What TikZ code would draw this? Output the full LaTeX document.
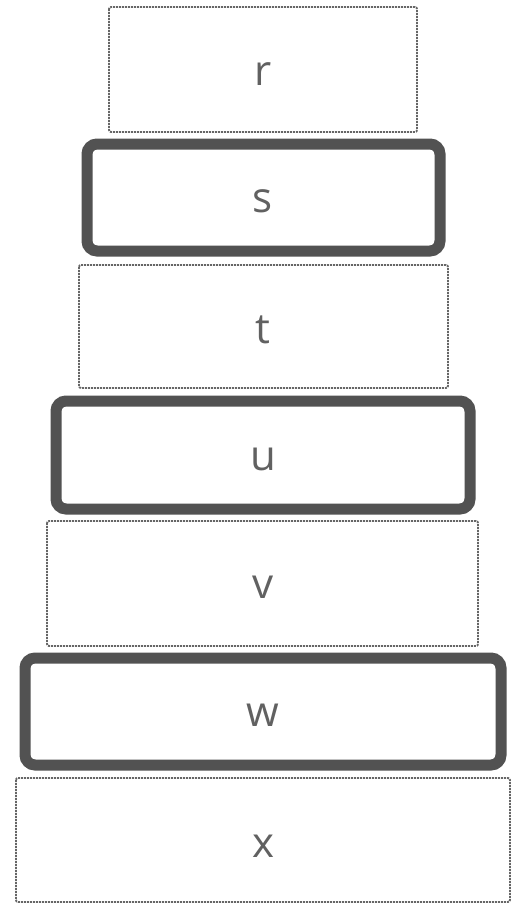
\documentclass[tikz,border=0pt]{standalone}
\usepackage{fontspec}
\setmainfont{Open Sans}
\begin{document}
\begin{tikzpicture}[x=1pt,y=-1pt,
  thinbox/.style={draw=black!60, line width=1.9pt, dash pattern=on 2pt off 1pt, rounded corners=2pt, fill=white},
  thickbox/.style={draw=black!68, line width=11pt, rounded corners=10pt, fill=white},
  lbl/.style={text=black!62, font=\fontsize{42}{48}\selectfont}]
\useasboundingbox (0,0) rectangle (519,907);
\draw[thinbox] (109,7) rectangle (417,132);
\node[lbl] (r) at (263,74) {r};
\draw[thickbox] (87,144) rectangle (440,251);
\node[lbl] (s) at (263,201) {s};
\draw[thinbox] (79,265) rectangle (448,388);
\node[lbl] (t) at (263,330) {t};
\draw[thickbox] (56,401) rectangle (470,509);
\node[lbl] (u) at (263,459) {u};
\draw[thinbox] (47,521) rectangle (478,646);
\node[lbl] (v) at (263,587) {v};
\draw[thickbox] (25,658) rectangle (501,765);
\node[lbl] (w) at (263,715) {w};
\draw[thinbox] (16,778) rectangle (510,902);
\node[lbl] (x) at (263,846) {x};
\end{tikzpicture}
\end{document}
